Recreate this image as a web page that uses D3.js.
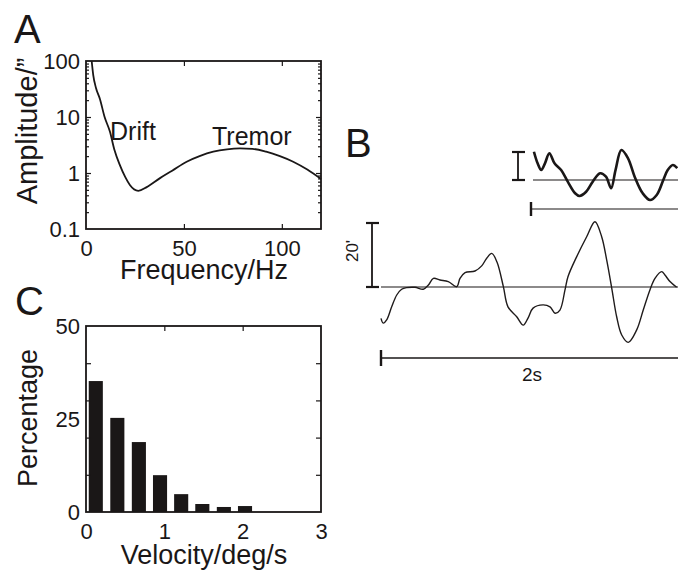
<!DOCTYPE html>
<html>
<head>
<meta charset="utf-8">
<script src="https://cdn.jsdelivr.net/npm/d3@7"></script>
<style>
  body { margin: 0; background: #fff; }
  svg { display: block; }
  text { font-family: "Liberation Sans", Arial, sans-serif; fill: #1a1717; }
</style>
</head>
<body>
<div id="fig"></div>
<script>
// ---- panel A : amplitude spectrum
var freqHz = [2.9, 3.7, 5.1, 7.1, 9.5, 12.2, 14.5, 17.3, 20, 22.4, 26.7, 31, 37.8, 44, 51.4, 58, 65, 72, 78.6, 85, 92, 99, 105.8, 113, 120];
var amplitude = [100, 56, 33, 21, 10, 5.5, 2.6, 1.38, 0.85, 0.61, 0.48, 0.56, 0.81, 1.1, 1.59, 2.0, 2.4, 2.65, 2.75, 2.7, 2.4, 2.0, 1.59, 1.15, 0.78];
var freqTicks = [0, 50, 100];
var ampTicks = [0.1, 1, 10, 100];

// ---- panel B : eye position traces
var driftTime = [0, 0.015, 0.038, 0.072, 0.106, 0.139, 0.173, 0.229, 0.285, 0.319, 0.353, 0.397, 0.453, 0.51, 0.532, 0.566, 0.633, 0.678, 0.712, 0.746, 0.781, 0.824, 0.855, 0.914, 0.958, 0.99, 1.024, 1.091, 1.138, 1.172, 1.205, 1.239, 1.259, 1.318, 1.385, 1.441, 1.486, 1.52, 1.554, 1.587, 1.621, 1.665, 1.722, 1.766, 1.811, 1.845, 1.89, 1.912, 1.946, 1.991];
var driftPos = [-9.8, -11.3, -10.3, -6.2, -2.5, -0.7, -0.2, -0.1, -0.7, 0.6, 2.7, 2.2, 1.7, 0.1, 2.7, 4.5, 5.0, 6.6, 9.0, 10.5, 7.8, 0.1, -6.2, -9.3, -11.9, -9.7, -6.6, -5.6, -6.2, -8.2, -7.2, -0.9, 3.2, 9.5, 15.7, 20.4, 15.7, 8.4, -0.4, -9.3, -15.0, -17.3, -13.4, -7.2, -0.9, 2.7, 4.8, 3.75, 1.7, -0.1];
var tremorTime = [0.004, 0.009, 0.014, 0.019, 0.025, 0.032, 0.041, 0.05, 0.06, 0.066, 0.075, 0.084, 0.094, 0.102, 0.109, 0.115, 0.123, 0.132, 0.141, 0.152, 0.162, 0.171, 0.18, 0.186, 0.193, 0.199];
var tremorPos = [2.02, 1.19, 0.71, 1.19, 1.91, 1.19, 0.71, -0.12, -0.95, -1.14, -0.84, -0.12, 0.48, 0.24, -0.59, 0.71, 2.14, 1.55, 0.24, -0.95, -1.43, -1.07, 0, 0.71, 1.07, 0.84];
var driftBarTime = 2, driftBarPos = 20;     // "2s" and "20'"
var tremorBarTime = 0.2, tremorBarPos = 2;  // unlabelled bars of the inset

// ---- panel C : velocity histogram
var velocity = [0.125, 0.4, 0.675, 0.945, 1.215, 1.485, 1.76, 2.03];
var percentage = [35.2, 25.3, 18.8, 9.9, 4.8, 2.15, 1.35, 1.6];
var velTicks = [0, 1, 2, 3];
var pctTicks = [0, 25, 50];
var pctMinorTicks = [10, 20, 30, 40];

var width = 678, height = 576;
var svg = d3.select("#fig").append("svg")
    .attr("width", width)
    .attr("height", height);

var ink = "#1a1717";

// inward tick marks on all four sides, plus outside labels left and bottom
var drawFrame = function (g, x, y, xTickMarks, yTickMarks, yMinor, xLabels, yLabels) {
    var x0 = x.range()[0], x1 = x.range()[1],
        y0 = y.range()[0], y1 = y.range()[1];

    var marks = [
        [d3.axisLeft(y).tickValues(yTickMarks).tickSize(-5), "translate(" + x0 + ",0)"],
        [d3.axisRight(y).tickValues(yTickMarks).tickSize(-5), "translate(" + x1 + ",0)"],
        [d3.axisBottom(x).tickValues(xTickMarks).tickSize(-5), "translate(0," + y0 + ")"],
        [d3.axisTop(x).tickValues(xTickMarks).tickSize(-5), "translate(0," + y1 + ")"]
    ];
    if (yMinor) {
        marks.push([d3.axisLeft(y).tickValues(yMinor).tickSize(-3), "translate(" + x0 + ",0)"]);
        marks.push([d3.axisRight(y).tickValues(yMinor).tickSize(-3), "translate(" + x1 + ",0)"]);
    }
    marks.forEach(function (m) {
        var a = g.append("g").attr("transform", m[1]).call(m[0].tickFormat(""));
        a.select(".domain").remove();
        a.selectAll("line").attr("stroke", ink).attr("stroke-width", 1.2);
    });

    var yl = g.append("g").attr("transform", "translate(" + x0 + ",0)")
        .call(d3.axisLeft(y).tickValues(yLabels).tickSize(0).tickPadding(6).tickFormat(function (d) { return String(d); }));
    var xl = g.append("g").attr("transform", "translate(0," + y0 + ")")
        .call(d3.axisBottom(x).tickValues(xLabels).tickSize(0).tickPadding(11).tickFormat(function (d) { return String(d); }));
    [yl, xl].forEach(function (a) {
        a.select(".domain").remove();
        a.selectAll("text").attr("font-size", 22).attr("font-family", null).style("fill", ink);
    });

    g.append("rect")
        .attr("x", x0).attr("y", y1)
        .attr("width", x1 - x0).attr("height", y0 - y1)
        .attr("fill", "none").attr("stroke", ink).attr("stroke-width", 1.8);
};

var panelLetter = function (txt, x, y) {
    svg.append("text").attr("x", x).attr("y", y)
        .attr("font-size", 40).text(txt);
};

var axisTitle = function (txt, x, y, rotate, size) {
    svg.append("text")
        .attr("transform", "translate(" + x + "," + y + ")" + (rotate ? " rotate(-90)" : ""))
        .attr("text-anchor", "middle")
        .attr("font-size", size || 27)
        .text(txt);
};

//
// Panel A
//
var xA = d3.scaleLinear().domain([0, 120]).range([86, 321]);
var yA = d3.scaleLog().domain([0.1, 100]).range([229, 61]);
var gA = svg.append("g");

var minorA = [];
[0.1, 1, 10].forEach(function (dec) {
    for (var k = 2; k <= 9; k++) minorA.push(dec * k);
});
drawFrame(gA, xA, yA, [50, 100], [1, 10], minorA, freqTicks, ampTicks);

gA.append("path")
    .datum(d3.range(freqHz.length))
    .attr("fill", "none")
    .attr("stroke", ink)
    .attr("stroke-width", 1.8)
    .attr("d", d3.line()
        .x(function (i) { return xA(freqHz[i]); })
        .y(function (i) { return yA(amplitude[i]); })
        .curve(d3.curveMonotoneX));

gA.append("text").attr("x", 110).attr("y", 140).attr("font-size", 25).text("Drift");
gA.append("text").attr("x", 212).attr("y", 145).attr("font-size", 25).text("Tremor");

panelLetter("A", 14, 43);
axisTitle("Amplitude/\u201d", 37, 131, true, 29);
axisTitle("Frequency/Hz", 204, 279, false);

//
// Panel B
//
var xB = d3.scaleLinear().domain([0, driftBarTime]).range([381, 678]);
var yB = d3.scaleLinear().domain([0, driftBarPos]).range([287, 223]);
var xT = d3.scaleLinear().domain([0, tremorBarTime]).range([531, 678]);
var yT = d3.scaleLinear().domain([0, tremorBarPos]).range([180, 152]);
var gB = svg.append("g");

var hLine = function (x0, x1, y, w) {
    gB.append("line").attr("x1", x0).attr("x2", x1).attr("y1", y).attr("y2", y)
        .attr("stroke", ink).attr("stroke-width", w);
};
var vLine = function (x, y0, y1, w) {
    gB.append("line").attr("x1", x).attr("x2", x).attr("y1", y0).attr("y2", y1)
        .attr("stroke", ink).attr("stroke-width", w);
};

// zero lines
hLine(xB(0), xB(driftBarTime) + 2, yB(0), 1.1);
hLine(xT(0) + 2, xT(tremorBarTime) + 2, yT(0), 1.1);

// vertical scale bars with caps
vLine(372, yB(0), yB(driftBarPos), 1.8);
hLine(366, 379, yB(0), 2.2);
hLine(366, 379, yB(driftBarPos), 2.2);
vLine(518, yT(0), yT(tremorBarPos), 1.8);
hLine(512, 525, yT(0), 2.2);
hLine(512, 525, yT(tremorBarPos), 2.2);

// time bars
hLine(xB(0), xB(driftBarTime) + 2, 358, 1.3);
vLine(xB(0), 350, 366, 2.4);
hLine(xT(0), xT(tremorBarTime) + 2, 209, 1.1);
vLine(xT(0), 202, 216, 2.4);

gB.append("path")
    .datum(d3.range(driftTime.length))
    .attr("fill", "none")
    .attr("stroke", "#1f1b1b")
    .attr("stroke-width", 1.4)
    .attr("d", d3.line()
        .x(function (i) { return xB(driftTime[i]); })
        .y(function (i) { return yB(driftPos[i]); })
        .curve(d3.curveCatmullRom));

gB.append("path")
    .datum(d3.range(tremorTime.length))
    .attr("fill", "none")
    .attr("stroke", ink)
    .attr("stroke-width", 2.6)
    .attr("stroke-linejoin", "round")
    .attr("d", d3.line()
        .x(function (i) { return xT(tremorTime[i]); })
        .y(function (i) { return yT(tremorPos[i]); })
        .curve(d3.curveCatmullRom));

gB.append("text")
    .attr("transform", "translate(358," + 251 + ") rotate(-90)")
    .attr("text-anchor", "middle")
    .attr("font-size", 17)
    .text("20'");
gB.append("text")
    .attr("x", 532).attr("y", 381)
    .attr("text-anchor", "middle")
    .attr("font-size", 19)
    .text("2s");

panelLetter("B", 345, 157);

//
// Panel C
//
var xC = d3.scaleLinear().domain([0, 3]).range([86, 321]);
var yC = d3.scaleLinear().domain([0, 50]).range([512, 326]);
var gC = svg.append("g");
var barW = 0.18;

gC.selectAll("rect.bar")
    .data(velocity)
    .enter()
    .append("rect")
    .attr("class", "bar")
    .attr("x", function (d) { return xC(d - barW / 2); })
    .attr("width", function (d) { return xC(d + barW / 2) - xC(d - barW / 2); })
    .attr("y", function (d, i) { return yC(percentage[i]); })
    .attr("height", function (d, i) { return yC(0) - yC(percentage[i]); })
    .attr("fill", ink);

drawFrame(gC, xC, yC, [1, 2], pctMinorTicks, null, velTicks, pctTicks);

panelLetter("C", 15, 315);
axisTitle("Percentage", 37, 418, true);
axisTitle("Velocity/deg/s", 204, 564, false);
</script>
</body>
</html>
